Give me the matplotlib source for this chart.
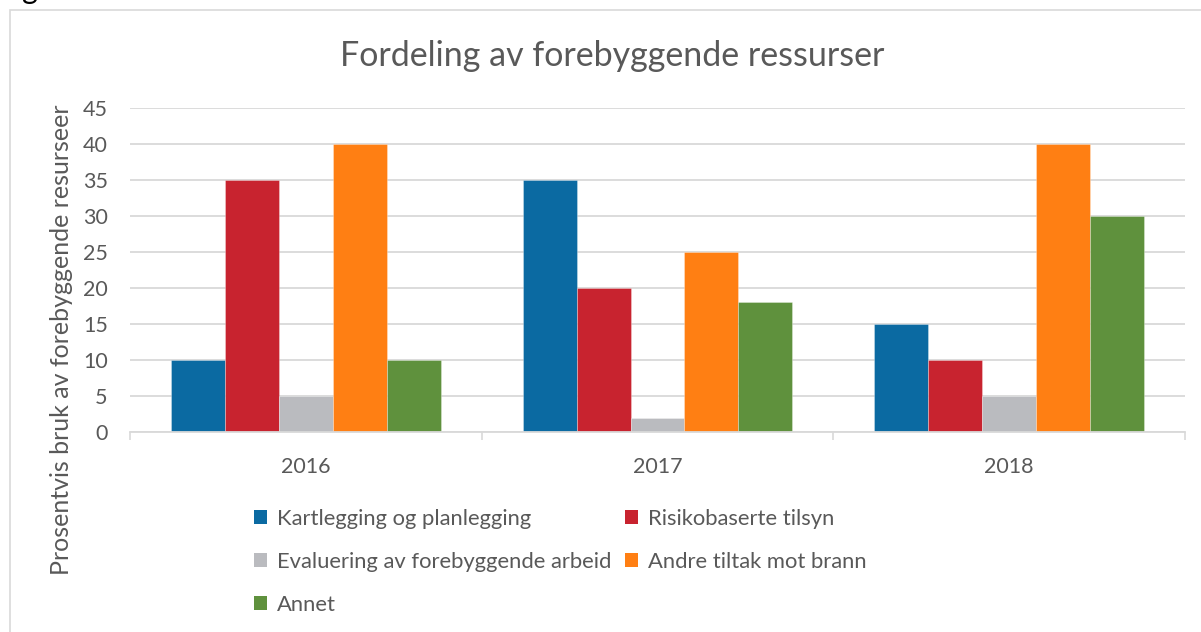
import matplotlib
matplotlib.use("Agg")
import matplotlib.pyplot as plt
from matplotlib.patches import Rectangle, Patch
import numpy as np

years = ["2016", "2017", "2018"]
series_names = ["Kartlegging og planlegging", "Risikobaserte tilsyn",
                "Evaluering av forebyggende arbeid", "Andre tiltak mot brann", "Annet"]
kartlegging = [10, 35, 15]
risiko = [35, 20, 10]
evaluering = [5, 2, 5]
andre = [40, 25, 40]
annet = [10, 18, 30]
series_values = [kartlegging, risiko, evaluering, andre, annet]
colors = ["#0b6aa2", "#c8232f", "#babbbf", "#ff7f13", "#5f913d"]
y_ticks = [0, 5, 10, 15, 20, 25, 30, 35, 40, 45]

plt.rcParams['font.family'] = ['Lato', 'DejaVu Sans']
txt = "#595959"

W, H = 1201, 632
fig = plt.figure(figsize=(W/100, H/100), dpi=100)
fig.patch.set_facecolor("white")

# outer chart frame
fig.add_artist(Rectangle((10/W, -0.05), 1.2, (H-10)/H + 0.05, transform=fig.transFigure,
                         fill=False, edgecolor="#d9d9d9", linewidth=1.2))
# fragment of text above the chart
fig.text(22/W, 1.0 + 1/H, "g", fontsize=22, color="black", va="baseline", ha="left")

ax = fig.add_axes([130/W, (H-432)/H, (1185-130)/W, (432-108)/H])
x = np.arange(len(years))
bw = 0.1535
n = len(series_values)
for i, (vals, c) in enumerate(zip(series_values, colors)):
    off = (i - (n-1)/2) * bw
    ax.bar(x + off, vals, width=bw, color=c, edgecolor=(1, 1, 1, 0.35), linewidth=0.6,
           zorder=3, label=series_names[i])

ax.set_xlim(-0.5, len(years)-0.5)
ax.set_ylim(0, 45)
ax.set_yticks(y_ticks)
ax.set_yticklabels([str(t) for t in y_ticks])
ax.set_xticks(x)
ax.set_xticklabels(years)
ax.set_xticks(np.arange(len(years)+1) - 0.5, minor=True)
ax.tick_params(axis='x', which='major', length=0, pad=18, labelsize=15.5, colors=txt)
ax.tick_params(axis='x', which='minor', length=6, width=1.2, color="#d9d9d9")
ax.tick_params(axis='y', length=0, pad=16, labelsize=15.5, colors=txt)
ax.yaxis.grid(True, color="#d9d9d9", linewidth=1.3, zorder=0)
ax.set_axisbelow(True)
for s in ["top", "right", "left"]:
    ax.spines[s].set_visible(False)
ax.spines["bottom"].set_color("#d9d9d9")
ax.spines["bottom"].set_linewidth(1.3)
ax.spines["bottom"].set_zorder(4)

fig.text(612/W, (H-56)/H, "Fordeling av forebyggende ressurser", fontsize=24.5,
         color=txt, ha="center", va="center")
fig.text(62/W, (H-340)/H, "Prosentvis bruk av forebyggende resurseer", fontsize=18,
         color=txt, ha="center", va="center", rotation=90)

handles = [Patch(facecolor=c) for c in colors]
order = [0, 2, 4, 1, 3]
leg = fig.legend([handles[i] for i in order], [series_names[i] for i in order],
                 ncol=2, loc="upper left", bbox_to_anchor=(254/W, (H-509)/H),
                 frameon=False, fontsize=15.8, handlelength=0.6, handleheight=0.6,
                 handletextpad=0.45, columnspacing=0.6, labelspacing=1.05,
                 borderpad=0, borderaxespad=0)
for t in leg.get_texts():
    t.set_color(txt)

fig.savefig("out.png", dpi=100, facecolor="white")
